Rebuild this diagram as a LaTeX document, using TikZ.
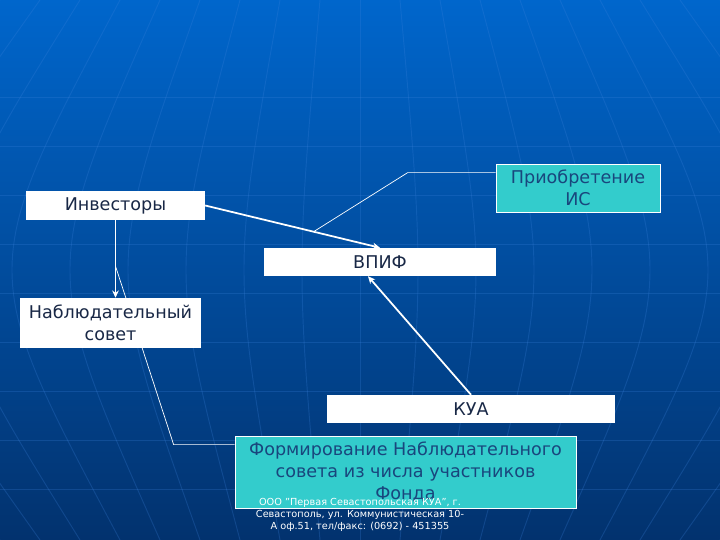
\documentclass[tikz,border=0pt]{standalone}
\usepackage{fontspec}
\setmainfont{DejaVu Sans}
\usepackage{xcolor}
\usetikzlibrary{arrows.meta,calc}
\definecolor{bgtop}{RGB}{0,102,204}
\definecolor{bgbot}{RGB}{2,50,110}
\definecolor{boxtext}{RGB}{25,40,70}
\definecolor{tealfill}{RGB}{51,204,204}
\definecolor{tealtext}{RGB}{25,70,125}
\definecolor{gridline}{RGB}{60,130,220}

\begin{document}
\begin{tikzpicture}[
    x=0.03cm, y=-0.03cm,
    whitebox/.style={fill=white, inner sep=0pt, align=center, text=boxtext,
                     font=\fontsize{15}{18.5}\selectfont},
    tealbox/.style={whitebox, fill=tealfill, draw=white, line width=0.6pt, text=tealtext},
    arr/.style={-{Stealth[length=2.2mm, width=2mm]}, white, line width=1.5pt},
    callout/.style={white, line width=0.6pt},
    meridian/.style={gridline, opacity=0.25, line width=0.8pt},
    parallel/.style={gridline, opacity=0.25, line width=0.5pt}]
  % background
  \shade[top color=bgtop, bottom color=bgbot] (0,0) rectangle (720,540);
  \useasboundingbox (0,0) rectangle (720,540);
  \begin{scope}
    \clip (0,0) rectangle (720,540);
    \foreach \k in {0,...,8}
      \draw[parallel] (0,97+49*\k) -- (720,97+49*\k);
    \foreach \i in {-12,...,12}
      \draw[meridian] (360+\i*40,0) .. controls (360+\i*64,270) .. (360+\i*40,540);
  \end{scope}
  % boxes
  \node[whitebox, minimum width=5.37cm, minimum height=0.87cm] (inv)   at (115.5,205.5) {Инвесторы};
  \node[tealbox,  minimum width=4.92cm, minimum height=1.44cm] (acq)   at (578,188)     {Приобретение\\ИС};
  \node[whitebox, minimum width=6.96cm, minimum height=0.84cm] (vpif)  at (380,262)     {ВПИФ};
  \node[whitebox, minimum width=8.64cm, minimum height=0.84cm] (kua)   at (471,409)     {КУА};
  \node[tealbox,  minimum width=10.23cm, minimum height=2.16cm] (form) at (405.5,472)
    {Формирование Наблюдательного\\совета из числа участников\\Фонда};
  % connectors
  \draw[arr] (inv.east) -- (vpif.north);
  \draw[arr] (kua.north) -- ([xshift=-0.36cm]vpif.south);
  \draw[callout] ([yshift=-0.27cm]acq.north west) -- ++(-88,0)
    -- ($(inv.east)!0.62!(vpif.north)$);
  \draw[callout] ([yshift=-0.27cm]form.north west) -- ++(-61,0)
    -- ($(inv.south)!0.59!(inv.south |- 0,298)$);
  \node[whitebox, minimum width=5.43cm, minimum height=1.5cm] (board) at (110.5,323)
    {Наблюдательный\\совет};
  \draw[arr] (inv.south) -- (inv.south |- board.north);
  % footer
  \node[text=white, align=center, font=\fontsize{8.3}{10.4}\selectfont] (foot) at (360,515)
    {ООО "Первая Севастопольская КУА", г.\\Севастополь, ул. Коммунистическая 10-\\А оф.51, тел/факс: (0692) - 451355};
\end{tikzpicture}
\end{document}
